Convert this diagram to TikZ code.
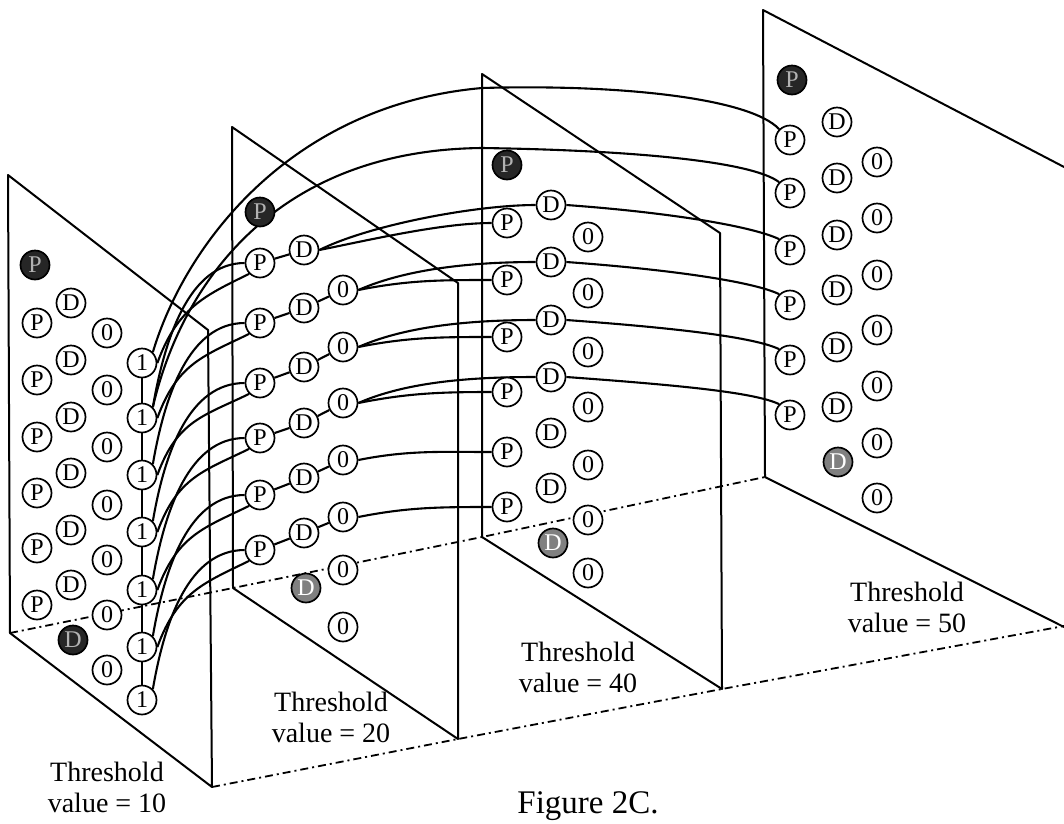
\documentclass[tikz,border=0pt]{standalone}
\usepackage{fontspec}
\setmainfont{Liberation Serif}
\pgfdeclarelayer{bg}
\pgfsetlayers{bg,main}
\begin{document}
\begin{tikzpicture}[x=1pt,y=-1pt,
  nd/.style={circle, draw, line width=1.7pt, fill=white, minimum size=29pt, inner sep=0pt, font=\fontsize{24}{24}\selectfont},
  dk/.style={nd, fill=black!85, text=black!30},
  gk/.style={nd, fill=black!50, text=white},
  ln/.style={line width=2.1pt},
  pnl/.style={line width=2pt, line join=round},
  dd/.style={line width=1.8pt, dash pattern=on 8pt off 4pt on 2pt off 4pt},
  lbl/.style={font=\fontsize{28}{31}\selectfont, align=center}]
\useasboundingbox (0,0) rectangle (1064,823);

% ---------- panel 1 (threshold 10)
\node[dk] (aX) at (35,265) {P};
\foreach \i/\y in {1/323,2/380,3/437,4/493,5/548,6/605} \node[nd] (aP\i) at (37,\y) {P};
\foreach \i/\y in {1/303,2/360,3/417,4/473,5/530,6/585} \node[nd] (aD\i) at (71,\y) {D};
\node[dk] (aDX) at (73,640) {D};
\foreach \i/\y in {1/333,2/390,3/447,4/505,5/560,6/615,7/670} \node[nd] (aO\i) at (107,\y) {0};
\foreach \i/\y in {1/363,2/418,3/475,4/532,5/590,6/647,7/700} \node[nd] (aI\i) at (142,\y) {1};

% ---------- panel 2 (threshold 20)
\node[dk] (bX) at (260,212) {P};
\foreach \i/\y in {1/263,2/323,3/383,4/438,5/495,6/550} \node[nd] (bP\i) at (260,\y) {P};
\foreach \i/\y in {1/250,2/308,3/367,4/423,5/478,6/533} \node[nd] (bD\i) at (304,\y) {D};
\node[gk] (bDX) at (306,588) {D};
\foreach \i/\y in {1/290,2/347,3/403,4/460,5/517,6/570,7/627} \node[nd] (bO\i) at (343,\y) {0};

% ---------- panel 3 (threshold 40)
\node[dk] (cX) at (507,165) {P};
\foreach \i/\y in {1/223,2/280,3/337,4/392,5/452,6/507} \node[nd] (cP\i) at (507,\y) {P};
\foreach \i/\y in {1/205,2/262,3/320,4/377,5/433,6/488} \node[nd] (cD\i) at (551,\y) {D};
\node[gk] (cDX) at (553,543) {D};
\foreach \i/\y in {1/237,2/293,3/352,4/407,5/465,6/520,7/573} \node[nd] (cO\i) at (588,\y) {0};

% ---------- panel 4 (threshold 50)
\node[dk] (dX) at (792,80) {P};
\foreach \i/\y in {1/140,2/193,3/250,4/305,5/360,6/415} \node[nd] (dP\i) at (790,\y) {P};
\foreach \i/\y in {1/122,2/178,3/235,4/290,5/347,6/407} \node[nd] (dD\i) at (837,\y) {D};
\node[gk] (dDX) at (838,462) {D};
\foreach \i/\y in {1/162,2/218,3/275,4/330,5/386,6/443,7/498} \node[nd] (dO\i) at (877,\y) {0};

% ---------- labels
\node[lbl] (t10) at (107,787) {Threshold\\value = 10};
\node[lbl] (t20) at (331,717) {Threshold\\value = 20};
\node[lbl] (t40) at (578,667) {Threshold\\value = 40};
\node[lbl] (t50) at (907,607) {Threshold\\value = 50};
\node[font=\fontsize{33}{36}\selectfont, anchor=base] (fig) at (588,813) {Figure 2C.};

\begin{pgfonlayer}{bg}
% panels
\draw[pnl] (8,175) -- (208,330) -- (212,787) -- (10,633) -- cycle;
\draw[pnl] (232,127) -- (458,283) -- (458,739) -- (233,588) -- cycle;
\draw[pnl] (482,74) -- (720,233) -- (722,689) -- (482,537) -- cycle;
\draw[pnl] (1066,168) -- (763,10) -- (765,477) -- (1066,628);
% floor lines
\draw[dd] (10,633) -- (233,588) -- (482,537) -- (765,477);
\draw[dd] (212,787) -- (458,739) -- (722,689) -- (1064,626);
% column of ones
\draw[line width=1.3pt] (aI1) -- (aI7);
% long arcs to panel 4
\draw[ln] (aI1.north east) .. controls (185,245) and (290,105) .. (482,88)
          .. controls (620,84) and (750,98) .. (dP1.north west);
\draw[ln] (aI2.north east) .. controls (180,290) and (270,150) .. (482,148)
          .. controls (620,150) and (750,160) .. (dP2.north west);
% ones to panel 2
\foreach \k [evaluate=\k as \j using int(\k+1)] in {1,...,6}{
  \draw[ln] (aI\j.north east) .. controls +(12,-70) and +(-55,0) .. (bP\k.west);
  \draw[ln] (aI\k.east) .. controls +(20,-55) and +(-45,22) .. (bP\k.south west);
}
% chains in panel 2
\draw[ln] (bP1) -- (bD1);
\foreach \k [evaluate=\k as \m using int(\k-1)] in {2,...,6}
  \draw[ln] (bP\k) -- (bD\k) -- (bO\m);
% panel 2 to panel 3
\draw[ln] (bD1.east) .. controls +(50,-25) and +(-60,0) .. (cD1.west);
\draw[ln] (bD1.east) .. controls +(50,-10) and +(-50,0) .. (cP1.west);
\foreach \m [evaluate=\m as \n using int(\m+1)] in {1,2,3}{
  \draw[ln] (bO\m.east) .. controls +(50,-22) and +(-60,0) .. (cD\n.west);
  \draw[ln] (bO\m.east) .. controls +(50,-10) and +(-50,0) .. (cP\n.west);
}
\draw[ln] (bO4.east) .. controls +(50,-10) and +(-50,0) .. (cP5.west);
\draw[ln] (bO5.east) .. controls +(50,-10) and +(-50,0) .. (cP6.west);
% panel 3 to panel 4
\foreach \k [evaluate=\k as \j using int(\k+2)] in {1,...,4}
  \draw[ln] (cD\k.east) .. controls +(110,8) and +(-25,-12) .. (dP\j.north west);
\end{pgfonlayer}
\end{tikzpicture}
\end{document}
